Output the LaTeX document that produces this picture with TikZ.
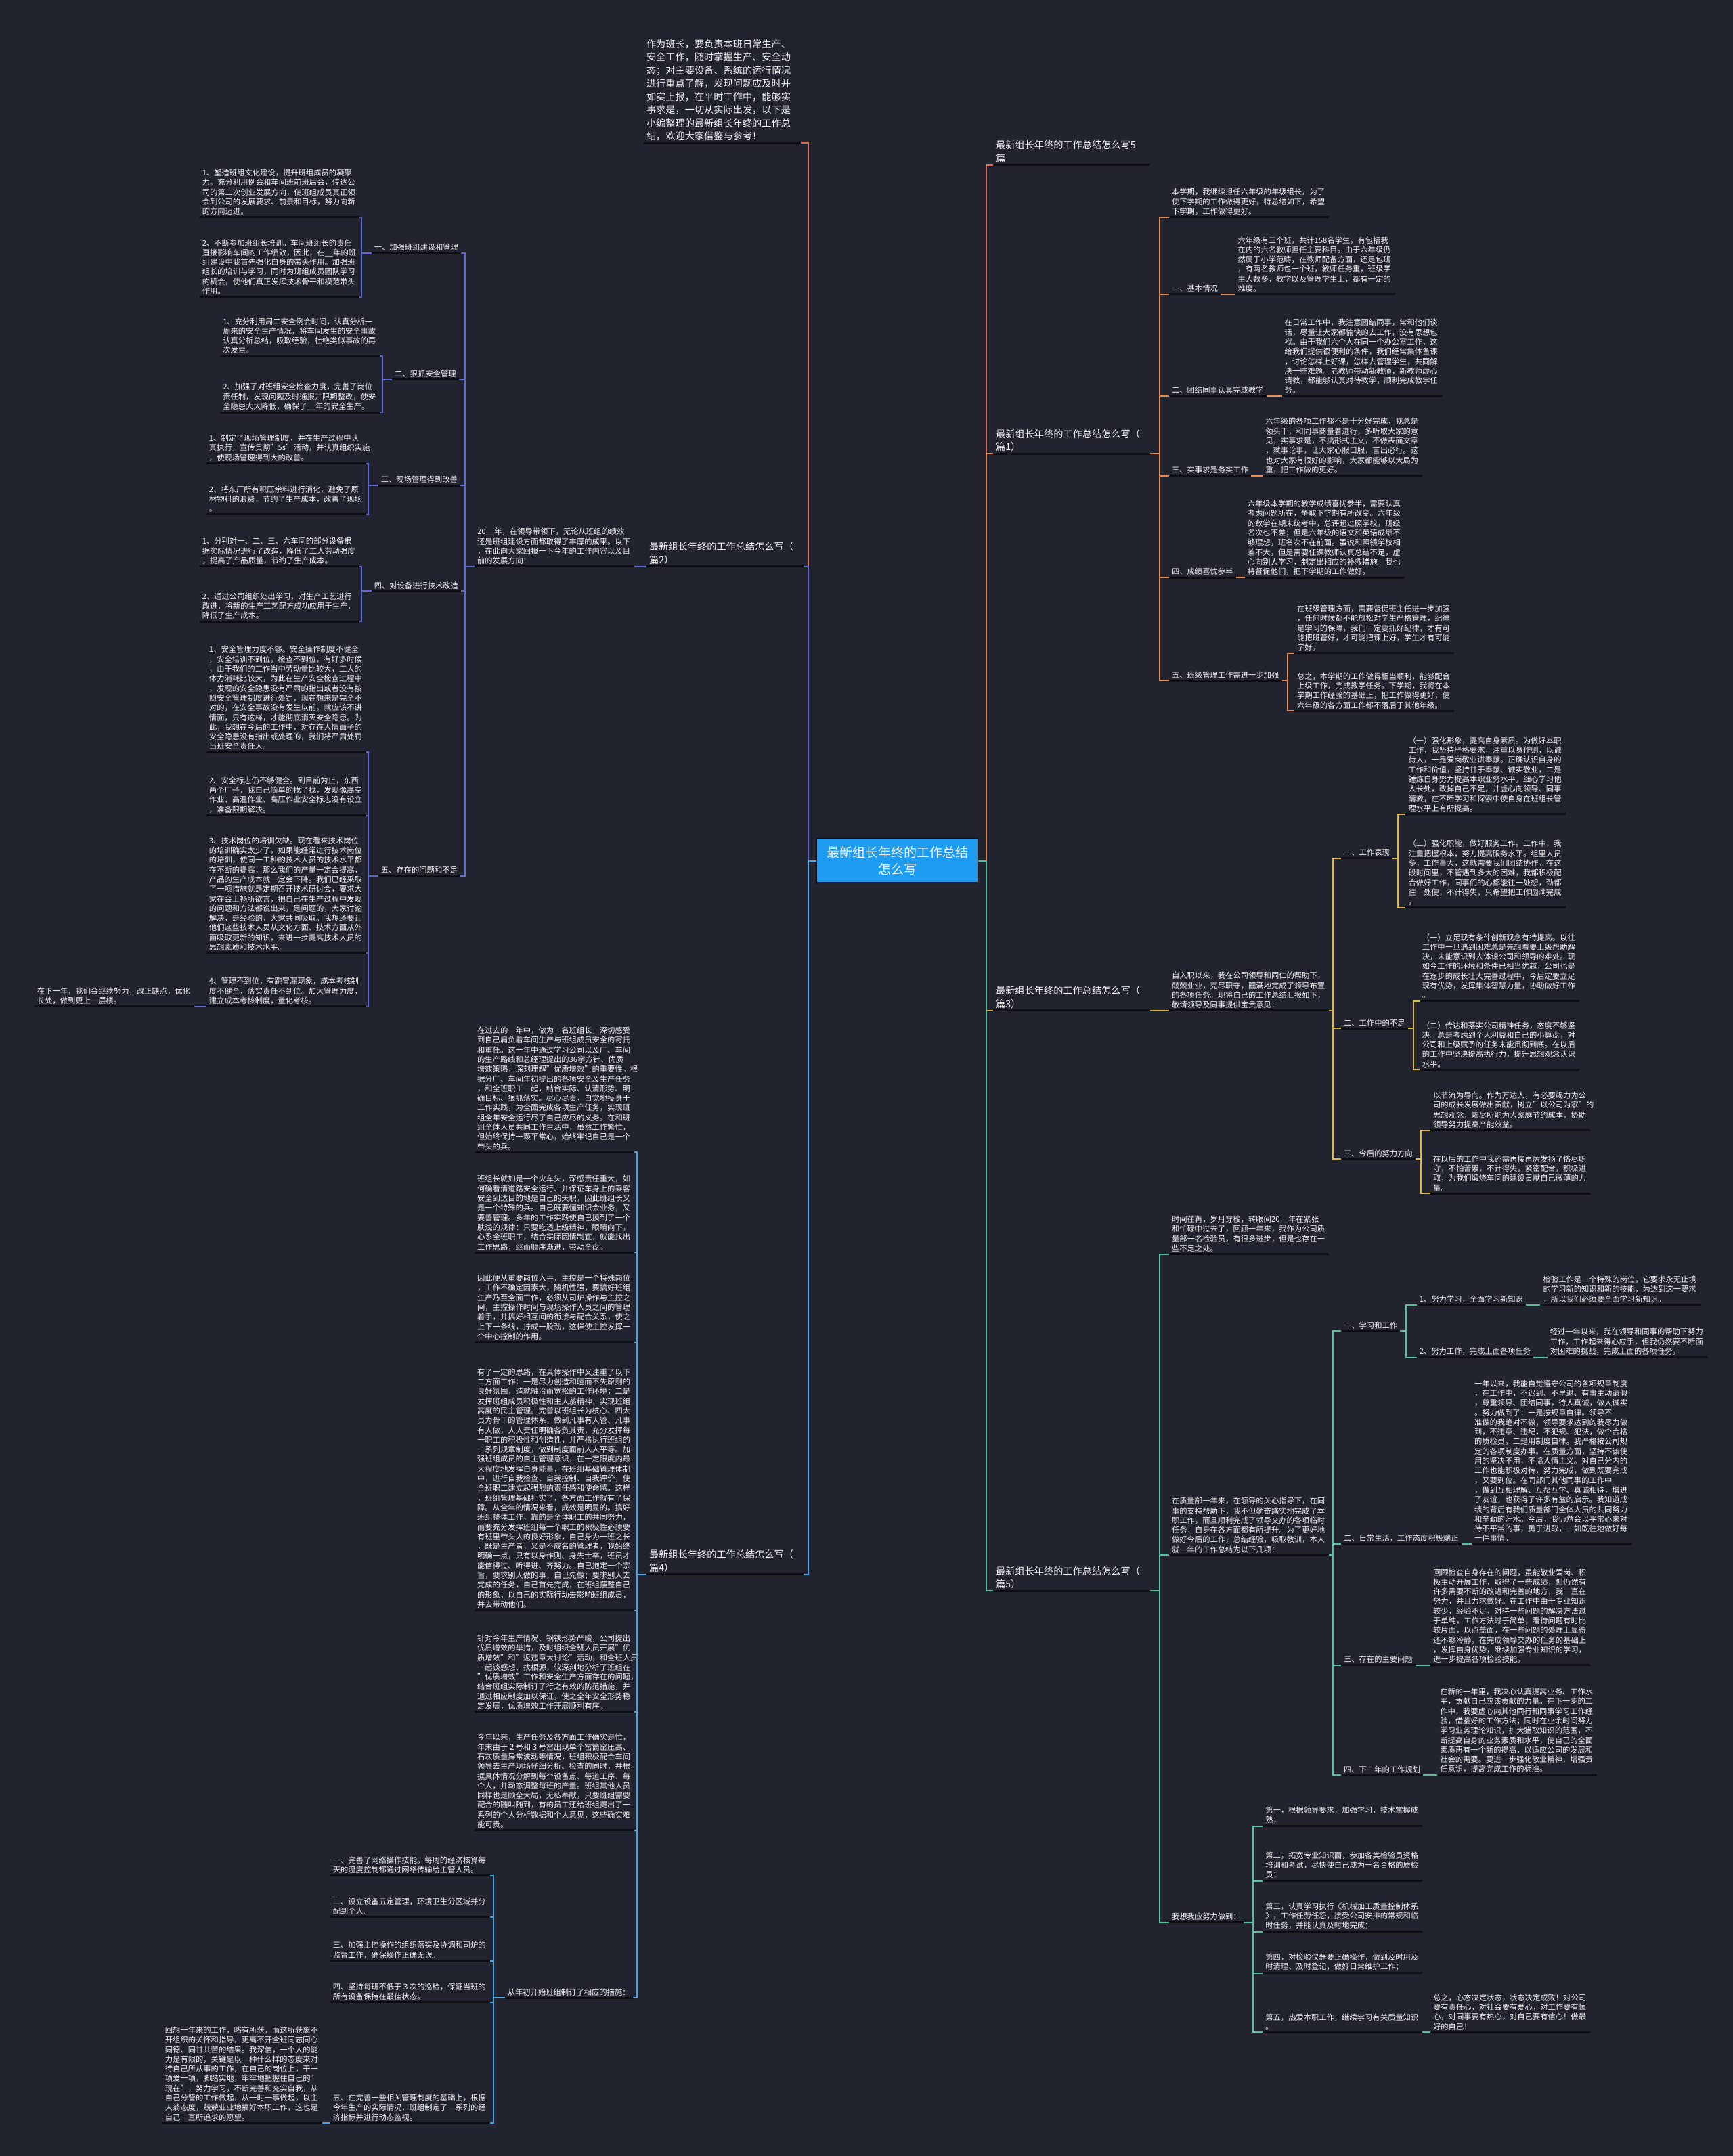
\documentclass[tikz,border=0pt]{standalone}
\usepackage{fontspec}
\setmainfont{Noto Sans CJK SC}
\definecolor{bg}{HTML}{21242F}
\definecolor{txt}{HTML}{F2F3F5}
\definecolor{ulc}{HTML}{0C0D12}
\definecolor{ctrc}{HTML}{1D9BF0}
\definecolor{cred}{HTML}{DC6A5E}
\definecolor{cpur}{HTML}{5C6BD0}
\definecolor{cblu}{HTML}{46A6E6}
\definecolor{cora}{HTML}{E68B52}
\definecolor{cyel}{HTML}{DDB845}
\definecolor{cgrn}{HTML}{52C2A0}
\begin{document}
\begin{tikzpicture}[
    x=2.0317pt, y=-2.0313pt,
    every node/.style={text=txt, inner xsep=4pt, inner ysep=3pt},
    uline/.style={draw=ulc, line width=3pt},
    ul/.style={append after command={(\tikzlastnode.south west) edge[uline] (\tikzlastnode.south east)}},
    ttl/.style={ul, anchor=south west, align=left, text width=224pt, font=\fontsize{14.2}{19.5}\selectfont},
    blk/.style={ul, anchor=south west, align=left, text width=228pt, font=\fontsize{11.3}{14.3}\selectfont},
    lab/.style={ul, anchor=south west, font=\fontsize{11.3}{14.3}\selectfont},
    cn/.style={draw=#1, line width=2pt},
    ctr/.style={fill=ctrc, draw=ulc, line width=1.2pt, minimum width=238pt, minimum height=65pt, align=center, font=\fontsize{19}{25}\selectfont},
]
\fill[bg] (0,0) rectangle (1260,1568);
\useasboundingbox (0,0) rectangle (1260,1568);
% === CENTRE ===
\node[ctr] (ctr) at (652.5,626) {最新组长年终的工作总结\\怎么写};
% === LEFT: intro, 篇2, 篇4 ===
\node[ttl] (intro) at (468,104) {作为班长，要负责本班日常生产、\\安全工作，随时掌握生产、安全动\\态；对主要设备、系统的运行情况\\进行重点了解，发现问题应及时并\\如实上报，在平时工作中，能够实\\事求是，一切从实际出发，以下是\\小编整理的最新组长年终的工作总\\结，欢迎大家借鉴与参考！};
\node[ttl] (p2) at (470,412) {最新组长年终的工作总结怎么写（\\篇2）};
\node[ttl] (p4) at (470,1145) {最新组长年终的工作总结怎么写（\\篇4）};
% 篇2
\node[blk] (p2a) at (345,412) {20\_\_年，在领导带领下，无论从班组的绩效\\还是班组建设方面都取得了丰厚的成果。以下\\，在此向大家回报一下今年的工作内容以及目\\前的发展方向：};
\node[lab] (p2s1) at (270,184) {一、加强班组建设和管理};
\node[lab] (p2s2) at (285,276) {二、狠抓安全管理};
\node[lab] (p2s3) at (275,353) {三、现场管理得到改善};
\node[lab] (p2s4) at (270,430) {四、对设备进行技术改造};
\node[lab] (p2s5) at (275,637) {五、存在的问题和不足};
\node[blk] (p2s1a) at (145,158) {1、塑造班组文化建设，提升班组成员的凝聚\\力。充分利用例会和车间班前班后会，传达公\\司的第二次创业发展方向，使班组成员真正领\\会到公司的发展要求、前景和目标，努力向新\\的方向迈进。};
\node[blk] (p2s1b) at (145,216) {2、不断参加班组长培训。车间班组长的责任\\直接影响车间的工作绩效，因此，在\_\_年的班\\组建设中我首先强化自身的带头作用。加强班\\组长的培训与学习，同时为班组成员团队学习\\的机会，使他们真正发挥技术骨干和模范带头\\作用。};
\node[blk] (p2s2a) at (160,259) {1、充分利用周二安全例会时间，认真分析一\\周来的安全生产情况，将车间发生的安全事故\\认真分析总结，吸取经验，杜绝类似事故的再\\次发生。};
\node[blk] (p2s2b) at (160,300) {2、加强了对班组安全检查力度，完善了岗位\\责任制，发现问题及时通报并限期整改，使安\\全隐患大大降低，确保了\_\_年的安全生产。};
\node[blk] (p2s3a) at (150,337) {1、制定了现场管理制度，并在生产过程中认\\真执行，宣传贯彻"5s"活动，并认真组织实施\\，使现场管理得到大的改善。};
\node[blk] (p2s3b) at (150,374) {2、将东厂所有积压余料进行消化，避免了原\\材物料的浪费，节约了生产成本，改善了现场\\。};
\node[blk] (p2s4a) at (145,412) {1、分别对一、二、三、六车间的部分设备根\\据实际情况进行了改造，降低了工人劳动强度\\，提高了产品质量，节约了生产成本。};
\node[blk] (p2s4b) at (145,452) {2、通过公司组织处出学习，对生产工艺进行\\改进，将新的生产工艺配方成功应用于生产，\\降低了生产成本。};
\node[blk] (p2s5a) at (150,547) {1、安全管理力度不够。安全操作制度不健全\\，安全培训不到位，检查不到位，有好多时候\\，由于我们的工作当中劳动量比较大，工人的\\体力消耗比较大，为此在生产安全检查过程中\\，发现的安全隐患没有严肃的指出或者没有按\\照安全管理制度进行处罚，现在想来是完全不\\对的，在安全事故没有发生以前，就应该不讲\\情面，只有这样，才能彻底消灭安全隐患。为\\此，我想在今后的工作中，对存在人情面子的\\安全隐患没有指出或处理的，我们将严肃处罚\\当班安全责任人。};
\node[blk] (p2s5b) at (150,593) {2、安全标志仍不够健全。到目前为止，东西\\两个厂子，我自己简单的找了找，发现像高空\\作业、高温作业、高压作业安全标志没有设立\\，准备限期解决。};
\node[blk] (p2s5c) at (150,693) {3、技术岗位的培训欠缺。现在看来技术岗位\\的培训确实太少了，如果能经常进行技术岗位\\的培训，使同一工种的技术人员的技术水平都\\在不断的提高，那么我们的产量一定会提高，\\产品的生产成本就一定会下降。我们已经采取\\了一项措施就是定期召开技术研讨会，要求大\\家在会上畅所欲言，把自己在生产过程中发现\\的问题和方法都说出来，是问题的，大家讨论\\解决，是经验的，大家共同吸取。我想还要让\\他们这些技术人员从文化方面、技术方面从外\\面吸取更新的知识，来进一步提高技术人员的\\思想素质和技术水平。};
\node[blk] (p2s5d) at (150,732) {4、管理不到位，有跑冒漏现象，成本考核制\\度不健全，落实责任不到位。加大管理力度，\\建立成本考核制度，量化考核。};
\node[blk] (p2s5e) at (25,732) {在下一年，我们会继续努力，改正缺点，优化\\长处，做到更上一层楼。};
% 篇4
\node[blk] (p4a) at (345,838) {在过去的一年中，做为一名班组长，深切感受\\到自己肩负着车间生产与班组成员安全的寄托\\和重任。这一年中通过学习公司以及厂、车间\\的生产路线和总经理提出的36字方针、优质\\增效策略，深刻理解"优质增效"的重要性。根\\据分厂、车间年初提出的各项安全及生产任务\\，和全班职工一起，结合实际、认清形势、明\\确目标、狠抓落实。尽心尽责，自觉地投身于\\工作实践，为全面完成各项生产任务，实现班\\组全年安全运行尽了自己应尽的义务。在和班\\组全体人员共同工作生活中，虽然工作繁忙，\\但始终保持一颗平常心，始终牢记自己是一个\\带头的兵。};
\node[blk] (p4b) at (345,911) {班组长就如是一个火车头，深感责任重大，如\\何确看清道路安全运行、并保证车身上的乘客\\安全到达目的地是自己的天职，因此班组长又\\是一个特殊的兵。自己既要懂知识会业务，又\\要善管理。多年的工作实践使自己摸到了一个\\肤浅的规律：只要吃透上级精神，眼睛向下，\\心系全班职工，结合实际因情制宜，就能找出\\工作思路，继而顺序渐进，带动全盘。};
\node[blk] (p4c) at (345,976) {因此便从重要岗位入手，主控是一个特殊岗位\\，工作不确定因素大，随机性强，要搞好班组\\生产乃至全面工作，必须从司炉操作与主控之\\间，主控操作时间与现场操作人员之间的管理\\着手，并搞好相互间的衔接与配合关系，使之\\上下一条线，拧成一股劲，这样使主控发挥一\\个中心控制的作用。};
\node[blk] (p4d) at (345,1171) {有了一定的思路，在具体操作中又注重了以下\\二方面工作：一是尽力创造和睦而不失原则的\\良好氛围，造就融洽而宽松的工作环境；二是\\发挥班组成员积极性和主人翁精神，实现班组\\高度的民主管理。完善以班组长为核心、四大\\员为骨干的管理体系，做到凡事有人管、凡事\\有人做，人人责任明确各负其责，充分发挥每\\一职工的积极性和创造性，并严格执行班组的\\一系列规章制度，做到制度面前人人平等。加\\强班组成员的自主管理意识，在一定限度内最\\大程度地发挥自身能量，在班组基础管理体制\\中，进行自我检查、自我控制、自我评价，使\\全班职工建立起强烈的责任感和使命感。这样\\，班组管理基础扎实了，各方面工作就有了保\\障。从全年的情况来看，成效是明显的。搞好\\班组整体工作，靠的是全体职工的共同努力，\\而要充分发挥班组每一个职工的积极性必须要\\有班里带头人的良好形象，自己身为一班之长\\，既是生产者，又是不成名的管理者，我始终\\明确一点，只有以身作则、身先士卒，班员才\\能信得过、听得进、齐努力。自己抱定一个宗\\旨，要求别人做的事，自己先做；要求别人去\\完成的任务，自己首先完成，在班组摆整自己\\的形象，以自己的实际行动去影响班组成员，\\并去带动他们。};
\node[blk] (p4e) at (345,1245) {针对今年生产情况、钢铁形势严峻，公司提出\\优质增效的举措，及时组织全班人员开展"优\\质增效"和"返违章大讨论"活动，和全班人员\\一起谈感想、找根源，较深刻地分析了班组在\\"优质增效"工作和安全生产方面存在的问题，\\结合班组实际制订了行之有效的防范措施，并\\通过相应制度加以保证，使之全年安全形势稳\\定发展，优质增效工作开展顺利有序。};
\node[blk] (p4f) at (345,1331) {今年以来，生产任务及各方面工作确实是忙，\\年末由于２号和３号窑出现单个窑筒窑压高、\\石灰质量异常波动等情况，班组积极配合车间\\领导去生产现场仔细分析、检查的同时，并根\\据具体情况分解到每个设备点、每道工序、每\\个人，并动态调整每班的产量。班组其他人员\\同样也是顾全大局，无私奉献，只要班组需要\\配合的随叫随到，有的员工还给班组提出了一\\系列的个人分析数据和个人意见，这些确实难\\能可贵。};
\node[lab] (p4g) at (367,1453) {从年初开始班组制订了相应的措施：};
\node[blk] (p4g1) at (240,1364) {一、完善了网络操作技能。每周的经济核算每\\天的温度控制都通过网络传输给主管人员。};
\node[blk] (p4g2) at (240,1394) {二、设立设备五定管理，环境卫生分区域并分\\配到个人。};
\node[blk] (p4g3) at (240,1426) {三、加强主控操作的组织落实及协调和司炉的\\监督工作，确保操作正确无误。};
\node[blk] (p4g4) at (240,1456) {四、坚持每班不低于３次的巡检，保证当班的\\所有设备保持在最佳状态。};
\node[blk] (p4g5) at (240,1544) {五、在完善一些相关管理制度的基础上，根据\\今年生产的实际情况，班组制定了一系列的经\\济指标并进行动态监视。};
\node[blk] (p4g5a) at (118,1544) {回想一年来的工作，略有所获，而这所获离不\\开组织的关怀和指导，更离不开全班同志同心\\同德、同甘共苦的结果。我深信，一个人的能\\力是有限的，关键是以一种什么样的态度来对\\待自己所从事的工作，在自己的岗位上，干一\\项爱一项，脚踏实地，牢牢地把握住自己的"\\现在"，努力学习，不断完善和充实自我，从\\自己分管的工作做起，从一时一事做起，以主\\人翁态度，兢兢业业地搞好本职工作，这也是\\自己一直所追求的愿望。};
% === RIGHT: 5篇, 篇1, 篇3, 篇5 ===
\node[ttl] (p5t) at (722,120) {最新组长年终的工作总结怎么写5\\篇};
\node[ttl] (p1) at (722,330) {最新组长年终的工作总结怎么写（\\篇1）};
\node[ttl] (p3) at (722,735) {最新组长年终的工作总结怎么写（\\篇3）};
\node[ttl] (p5) at (722,1157) {最新组长年终的工作总结怎么写（\\篇5）};
% 篇1
\node[blk] (p1a) at (850,158) {本学期，我继续担任六年级的年级组长，为了\\使下学期的工作做得更好，特总结如下，希望\\下学期，工作做得更好。};
\node[lab] (p1s1) at (850,214) {一、基本情况};
\node[lab] (p1s2) at (850,288) {二、团结同事认真完成教学};
\node[lab] (p1s3) at (850,346) {三、实事求是务实工作};
\node[lab] (p1s4) at (850,420) {四、成绩喜忧参半};
\node[lab] (p1s5) at (850,495) {五、班级管理工作需进一步加强};
\node[blk] (p1t1) at (898,214) {六年级有三个班，共计158名学生，有包括我\\在内的六名教师担任主要科目。由于六年级仍\\然属于小学范畴，在教师配备方面，还是包班\\，有两名教师包一个班，教师任务重，班级学\\生人数多，教学以及管理学生上，都有一定的\\难度。};
\node[blk] (p1t2) at (932,288) {在日常工作中，我注意团结同事，常和他们谈\\话，尽量让大家都愉快的去工作，没有思想包\\袱。由于我们六个人在同一个办公室工作，这\\给我们提供很便利的条件，我们经常集体备课\\，讨论怎样上好课，怎样去管理学生，共同解\\决一些难题。老教师带动新教师，新教师虚心\\请教，都能够认真对待教学，顺利完成教学任\\务。};
\node[blk] (p1t3) at (918,346) {六年级的各项工作都不是十分好完成，我总是\\领头干，和同事商量着进行，多听取大家的意\\见，实事求是，不搞形式主义，不做表面文章\\，就事论事，让大家心服口服，言出必行。这\\也对大家有很好的影响，大家都能够以大局为\\重，把工作做的更好。};
\node[blk] (p1t4) at (905,420) {六年级本学期的教学成绩喜忧参半，需要认真\\考虑问题所在，争取下学期有所改变。六年级\\的数学在期末统考中，总评超过照学校，班级\\名次也不差；但是六年级的语文和英语成绩不\\够理想，班名次不在前面。虽说和照镜学校相\\差不大，但是需要任课教师认真总结不足，虚\\心向别人学习，制定出相应的补救措施。我也\\将督促他们，把下学期的工作做好。};
\node[blk] (p1t5a) at (941,475) {在班级管理方面，需要督促班主任进一步加强\\，任何时候都不能放松对学生严格管理，纪律\\是学习的保障，我们一定要抓好纪律，才有可\\能把班管好，才可能把课上好，学生才有可能\\学好。};
\node[blk] (p1t5b) at (941,517) {总之，本学期的工作做得相当顺利，能够配合\\上级工作，完成教学任务。下学期，我将在本\\学期工作经验的基础上，把工作做得更好，使\\六年级的各方面工作都不落后于其他年级。};
% 篇3
\node[blk] (p3a) at (850,735) {自入职以来，我在公司领导和同仁的帮助下，\\兢兢业业，克尽职守，圆满地完成了领导布置\\的各项任务。现将自己的工作总结汇报如下，\\敬请领导及同事提供宝贵意见：};
\node[lab] (p3s1) at (975,624) {一、工作表现};
\node[lab] (p3s2) at (975,748) {二、工作中的不足};
\node[lab] (p3s3) at (975,843) {三、今后的努力方向};
\node[blk] (p3t1a) at (1022,592) {（一）强化形象，提高自身素质。为做好本职\\工作，我坚持严格要求，注重以身作则，以诚\\待人，一是爱岗敬业讲奉献。正确认识自身的\\工作和价值，坚持甘于奉献、诚实敬业，二是\\锤炼自身努力提高本职业务水平。细心学习他\\人长处，改掉自己不足，并虚心向领导、同事\\请教，在不断学习和探索中使自身在班组长管\\理水平上有所提高。};
\node[blk] (p3t1b) at (1022,660) {（二）强化职能，做好服务工作。工作中，我\\注重把握根本，努力提高服务水平。组里人员\\多，工作量大，这就需要我们团结协作。在这\\段时间里，不管遇到多大的困难，我都积极配\\合做好工作，同事们的心都能往一处想，劲都\\往一处使，不计得失，只希望把工作圆满完成\\。};
\node[blk] (p3t2a) at (1032,728) {（一）立足现有条件创新观念有待提高。以往\\工作中一旦遇到困难总是先想着要上级帮助解\\决，未能意识到去体谅公司和领导的难处。现\\如今工作的环境和条件已相当优越，公司也是\\在逐步的成长壮大完善过程中，今后定要立足\\现有优势，发挥集体智慧力量，协助做好工作\\。};
\node[blk] (p3t2b) at (1032,778) {（二）传达和落实公司精神任务，态度不够坚\\决。总是考虑到个人利益和自己的小算盘，对\\公司和上级赋予的任务未能贯彻到底。在以后\\的工作中坚决提高执行力，提升思想观念认识\\水平。};
\node[blk] (p3t3a) at (1040,822) {以节流为导向。作为万达人，有必要竭力为公\\司的成长发展做出贡献，树立"以公司为家"的\\思想观念，竭尽所能为大家庭节约成本，协助\\领导努力提高产能效益。};
\node[blk] (p3t3b) at (1040,868) {在以后的工作中我还需再接再厉发扬了恪尽职\\守，不怕苦累，不计得失，紧密配合，积极进\\取，为我们煅烧车间的建设贡献自己微薄的力\\量。};
% 篇5
\node[blk] (p5a) at (850,912) {时间荏苒，岁月穿梭，转眼间20\_\_年在紧张\\和忙碌中过去了，回顾一年来，我作为公司质\\量部一名检验员，有很多进步，但是也存在一\\些不足之处。};
\node[blk] (p5b) at (850,1131) {在质量部一年来，在领导的关心指导下，在同\\事的支持帮助下，我不但勤奋踏实地完成了本\\职工作，而且顺利完成了领导交办的各项临时\\任务，自身在各方面都有所提升。为了更好地\\做好今后的工作，总结经验，吸取教训，本人\\就一年的工作总结为以下几项：};
\node[lab] (p5s1) at (975,968) {一、学习和工作};
\node[lab] (p5s2) at (975,1123) {二、日常生活，工作态度积极端正};
\node[lab] (p5s3) at (975,1211) {三、存在的主要问题};
\node[lab] (p5s4) at (975,1291) {四、下一年的工作规划};
\node[lab] (p5s1a) at (1030,949) {1、努力学习，全面学习新知识};
\node[lab] (p5s1b) at (1030,987) {2、努力工作，完成上面各项任务};
\node[blk] (p5t1a) at (1120,949) {检验工作是一个特殊的岗位，它要求永无止境\\的学习新的知识和新的技能，为达到这一要求\\，所以我们必须要全面学习新知识。};
\node[blk] (p5t1b) at (1125,987) {经过一年以来，我在领导和同事的帮助下努力\\工作，工作起来得心应手，但我仍然要不断面\\对困难的挑战，完成上面的各项任务。};
\node[blk] (p5t2) at (1070,1123) {一年以来，我能自觉遵守公司的各项规章制度\\，在工作中，不迟到、不早退、有事主动请假\\，尊重领导、团结同事，待人真诚，做人诚实\\。努力做到了：一是按规章自律。领导不\\准做的我绝对不做，领导要求达到的我尽力做\\到，不违章、违纪，不犯规、犯法，做个合格\\的质检员。二是用制度自律。我严格按公司规\\定的各项制度办事。在质量方面，坚持不该使\\用的坚决不用，不搞人情主义。对自己分内的\\工作也能积极对待，努力完成，做到既要完成\\，又要到位。在同部门其他同事的工作中\\，做到互相理解、互帮互学、真诚相待，增进\\了友谊，也获得了许多有益的启示。我知道成\\绩的背后有我们质量部门全体人员的共同努力\\和辛勤的汗水。今后，我仍然会以平常心来对\\待不平常的事，勇于进取，一如既往地做好每\\一件事情。};
\node[blk] (p5t3) at (1040,1211) {回顾检查自身存在的问题，虽能敬业爱岗、积\\极主动开展工作，取得了一些成绩，但仍然有\\许多需要不断的改进和完善的地方，我一直在\\努力，并且力求做好。在工作中由于专业知识\\较少，经验不足，对待一些问题的解决方法过\\于单纯，工作方法过于简单；看待问题有时比\\较片面，以点盖面，在一些问题的处理上显得\\还不够冷静。在完成领导交办的任务的基础上\\，发挥自身优势，继续加强专业知识的学习，\\进一步提高各项检验技能。};
\node[blk] (p5t4) at (1045,1291) {在新的一年里，我决心认真提高业务、工作水\\平，贡献自己应该贡献的力量。在下一步的工\\作中，我要虚心向其他同行和同事学习工作经\\验，借鉴好的工作方法；同时在业余时间努力\\学习业务理论知识，扩大猎取知识的范围，不\\断提高自身的业务素质和水平，使自己的全面\\素质再有一个新的提高，以适应公司的发展和\\社会的需要。要进一步强化敬业精神，增强责\\任意识，提高完成工作的标准。};
\node[lab] (p5w) at (850,1398) {我想我应努力做到：};
\node[blk] (p5w1) at (918,1328) {第一，根据领导要求，加强学习，技术掌握成\\熟；};
\node[blk] (p5w2) at (918,1368) {第二，拓宽专业知识面，参加各类检验员资格\\培训和考试，尽快使自己成为一名合格的质检\\员；};
\node[blk] (p5w3) at (918,1405) {第三，认真学习执行《机械加工质量控制体系\\》，工作任劳任怨，接受公司安排的常规和临\\时任务，并能认真及时地完成；};
\node[blk] (p5w4) at (918,1435) {第四，对检验仪器要正确操作，做到及时用及\\时清理、及时登记，做好日常维护工作；};
\node[blk] (p5w5) at (918,1478) {第五，热爱本职工作，继续学习有关质量知识\\。};
\node[blk] (p5w5a) at (1040,1478) {总之，心态决定状态，状态决定成败！对公司\\要有责任心，对社会要有爱心，对工作要有恒\\心，对同事要有热心，对自己要有信心！做最\\好的自己！};
% === CONNECTORS ===
\draw[cn=cred] (ctr.west) -- ++(-6,0) |- (intro.south east);
\draw[cn=cpur] (ctr.west) -- ++(-6,0) |- (p2.south east);
\draw[cn=cblu] (ctr.west) -- ++(-6,0) |- (p4.south east);
\draw[cn=cred] (ctr.east) -- ++(6,0) |- (p5t.south west);
\draw[cn=cora] (ctr.east) -- ++(6,0) |- (p1.south west);
\draw[cn=cyel] (ctr.east) -- ++(6,0) |- (p3.south west);
\draw[cn=cgrn] (ctr.east) -- ++(6,0) |- (p5.south west);
% 篇2
\draw[cn=cpur] (p2.south west) -- (p2a.south east);
\foreach \n in {p2s1,p2s2,p2s3,p2s4,p2s5}
    \draw[cn=cpur] (p2a.south west) -- ++(-7,0) |- (\n.south east);
\foreach \p/\c in {p2s1/p2s1a,p2s1/p2s1b,p2s2/p2s2a,p2s2/p2s2b,p2s3/p2s3a,p2s3/p2s3b,p2s4/p2s4a,p2s4/p2s4b,p2s5/p2s5a,p2s5/p2s5b,p2s5/p2s5c,p2s5/p2s5d}
    \draw[cn=cpur] (\p.south west) -- ++(-7,0) |- (\c.south east);
\draw[cn=cpur] (p2s5d.south west) -- (p2s5e.south east);
% 篇4
\foreach \n in {p4a,p4b,p4c,p4d,p4e,p4f,p4g}
    \draw[cn=cblu] (p4.south west) -- ++(-7,0) |- (\n.south east);
\foreach \n in {p4g1,p4g2,p4g3,p4g4,p4g5}
    \draw[cn=cblu] (p4g.south west) -- ++(-8,0) |- (\n.south east);
\draw[cn=cblu] (p4g5.south west) -- (p4g5a.south east);
% 篇1
\foreach \n in {p1a,p1s1,p1s2,p1s3,p1s4,p1s5}
    \draw[cn=cora] (p1.south east) -- ++(7,0) |- (\n.south west);
\foreach \i in {1,2,3,4}
    \draw[cn=cora] (p1s\i.south east) -- (p1t\i.south west);
\foreach \n in {p1t5a,p1t5b}
    \draw[cn=cora] (p1s5.south east) -- ++(4,0) |- (\n.south west);
% 篇3
\draw[cn=cyel] (p3.south east) -- (p3a.south west);
\foreach \n in {p3s1,p3s2,p3s3}
    \draw[cn=cyel] (p3a.south east) -- ++(3,0) |- (\n.south west);
\foreach \p/\c in {p3s1/p3t1a,p3s1/p3t1b,p3s2/p3t2a,p3s2/p3t2b,p3s3/p3t3a,p3s3/p3t3b}
    \draw[cn=cyel] (\p.south east) -- ++(4,0) |- (\c.south west);
% 篇5
\foreach \n in {p5a,p5b,p5w}
    \draw[cn=cgrn] (p5.south east) -- ++(7,0) |- (\n.south west);
\foreach \n in {p5s1,p5s2,p5s3,p5s4}
    \draw[cn=cgrn] (p5b.south east) -- ++(3,0) |- (\n.south west);
\foreach \n in {p5s1a,p5s1b}
    \draw[cn=cgrn] (p5s1.south east) -- ++(4,0) |- (\n.south west);
\foreach \p/\c in {p5s1a/p5t1a,p5s1b/p5t1b,p5s2/p5t2,p5s3/p5t3,p5s4/p5t4,p5w5/p5w5a}
    \draw[cn=cgrn] (\p.south east) -- (\c.south west);
\foreach \n in {p5w1,p5w2,p5w3,p5w4,p5w5}
    \draw[cn=cgrn] (p5w.south east) -- ++(7,0) |- (\n.south west);
\end{tikzpicture}
\end{document}
